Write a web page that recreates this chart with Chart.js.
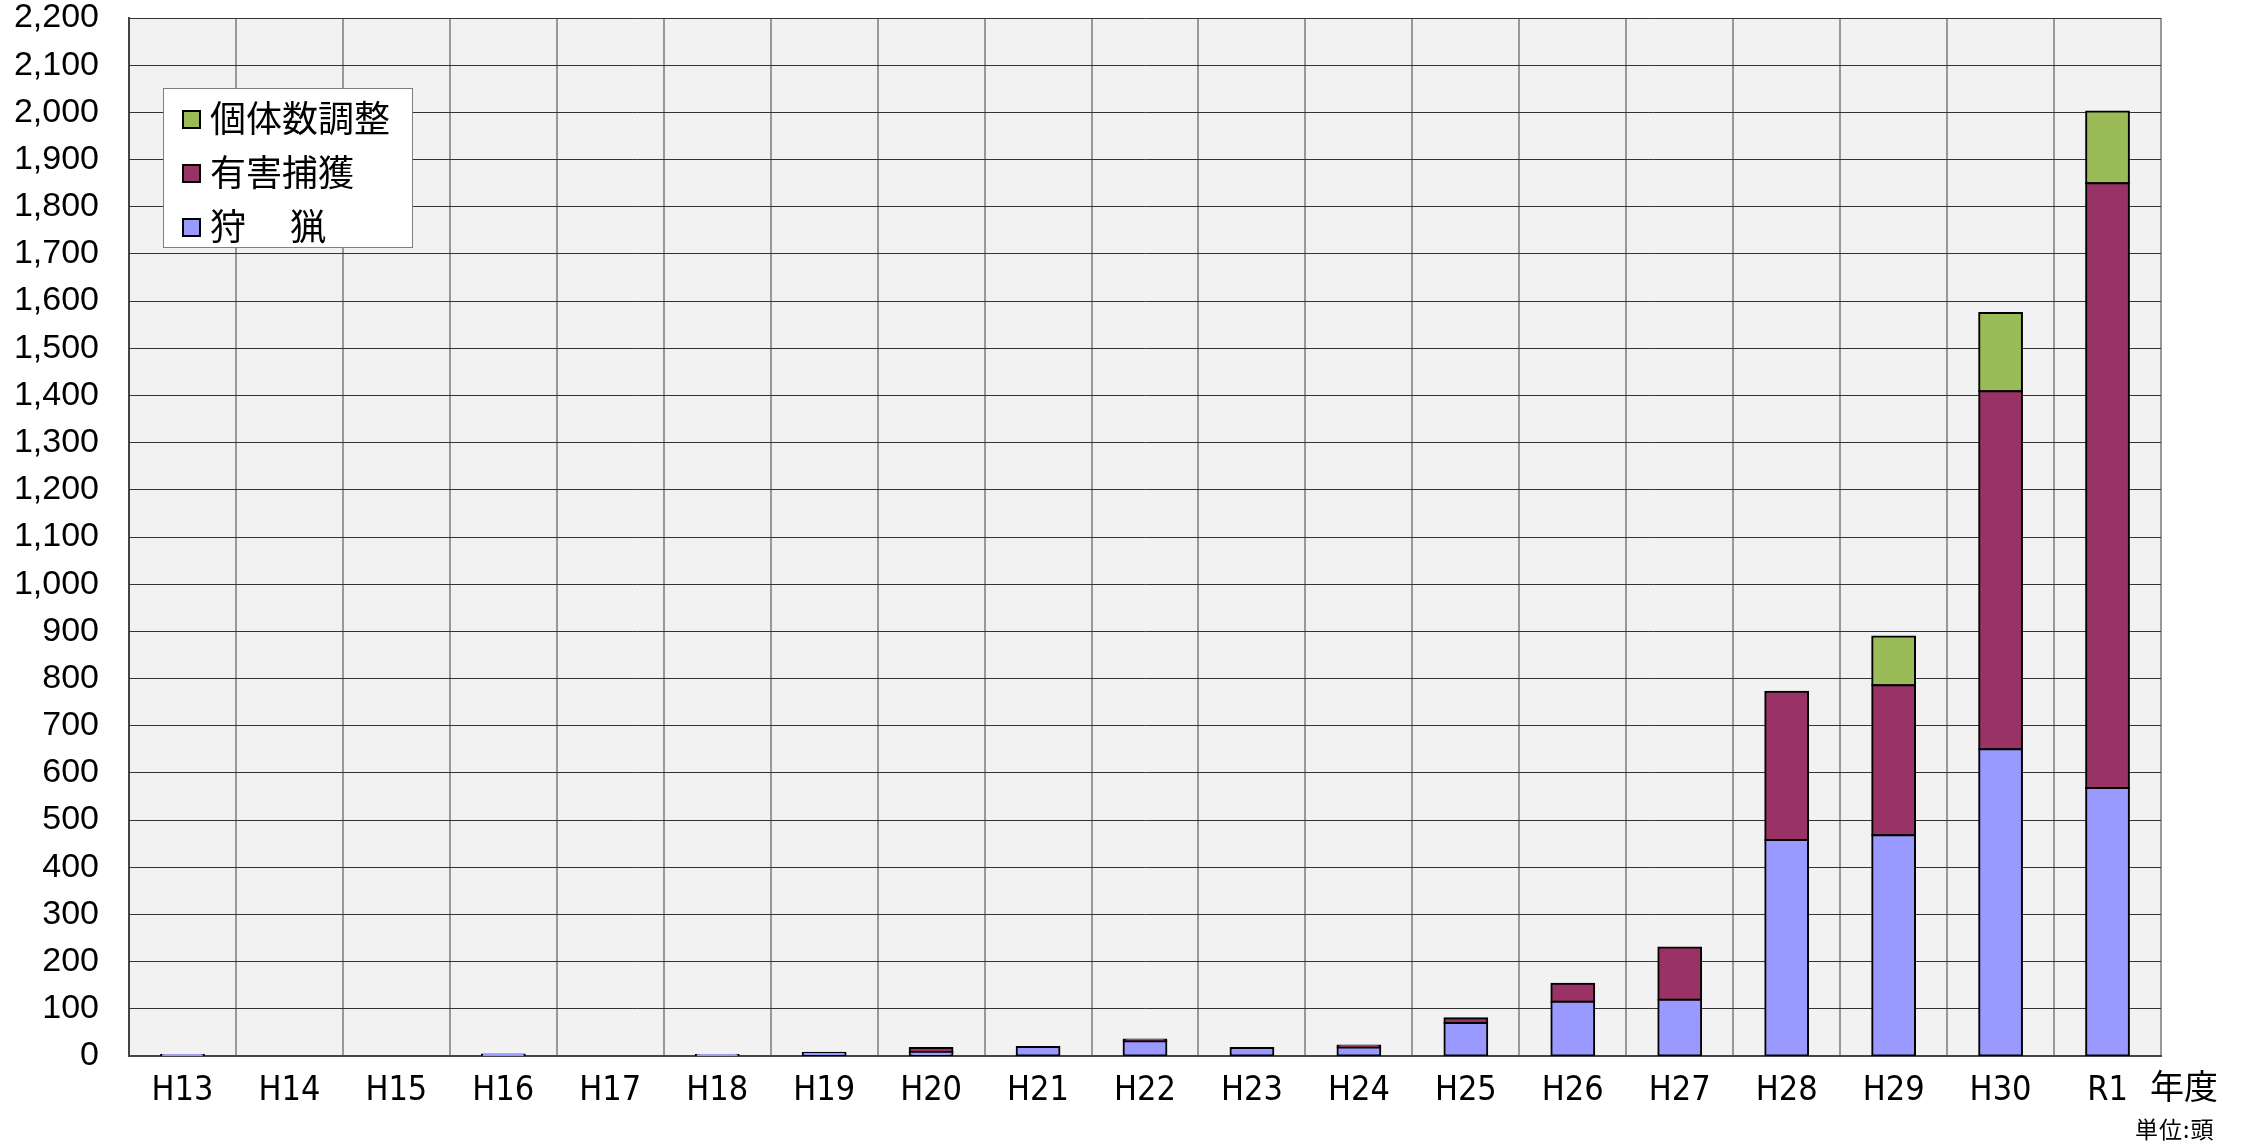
<!DOCTYPE html>
<html lang="ja">
<head>
<meta charset="UTF-8">
<title>捕獲頭数の推移</title>
<script src="https://cdn.jsdelivr.net/npm/chart.js"></script>
<style>
    body { margin: 0; background: #fff; }
    .wrap { position: relative; width: 2251px; height: 1144px; }
    .legend {
        position: absolute; left: 163px; top: 88px; width: 250px; height: 160px;
        background: #fff; border: 1px solid #808080; box-sizing: border-box;
        font-family: "Noto Sans CJK JP", sans-serif; font-size: 36px; color: #000;
    }
    .legend .item { height: 54px; line-height: 54px; padding-left: 18px; white-space: pre; }
    .legend .box {
        display: inline-block; width: 15px; height: 15px; border: 2px solid #000;
        margin-right: 9px; vertical-align: middle; position: relative; top: -3px;
    }
    .unit { position: absolute; font-family: "Noto Sans CJK JP", sans-serif; color: #000; white-space: nowrap; }
</style>
</head>
<body>
<div class="wrap">
    <canvas id="grafico"></canvas>
    <div class="legend" id="legenda"></div>
    <div class="unit" style="left: 2150px; top: 1060px; font-size: 34px;">年度</div>
    <div class="unit" style="left: 2135px; top: 1111px; font-size: 23px; letter-spacing: 1px;">単位:頭</div>
</div>
<script>
    const anos = ['H13', 'H14', 'H15', 'H16', 'H17', 'H18', 'H19', 'H20', 'H21', 'H22',
        'H23', 'H24', 'H25', 'H26', 'H27', 'H28', 'H29', 'H30', 'R1'];

    // 狩猟
    const shuryo = [2, 0, 0, 3, 0, 2, 7, 8, 19, 31, 17, 18, 70, 115, 119, 458, 468, 650, 568];
    // 有害捕獲
    const yugai = [0, 0, 0, 0, 0, 0, 0, 9, 0, 4, 0, 4, 10, 38, 111, 314, 318, 759, 1282];
    // 個体数調整
    const kotaisu = [0, 0, 0, 0, 0, 0, 0, 0, 0, 0, 0, 0, 0, 0, 0, 0, 103, 166, 152];

    const yMax = 2200;
    const yStep = 100;

    // fundo cinza da área do gráfico
    const fundo = {
        id: 'fundo',
        beforeDraw(chart) {
            const a = chart.chartArea;
            const ctx = chart.ctx;
            ctx.save();
            ctx.fillStyle = '#f2f2f2';
            ctx.fillRect(a.left, a.top, a.right - a.left, a.bottom - a.top);
            ctx.restore();
        }
    };

    const series = [
        { label: '狩　 猟', data: shuryo, cor: '#9999ff' },
        { label: '有害捕獲', data: yugai, cor: '#993366' },
        { label: '個体数調整', data: kotaisu, cor: '#9bbb59' }
    ];

    let ctx = document.getElementById('grafico');
    new Chart(ctx, {
        type: 'bar',
        data: {
            labels: anos,
            datasets: series.map(s => ({
                label: s.label,
                data: s.data,
                backgroundColor: s.cor,
                borderColor: '#000',
                borderWidth: 2,
                borderSkipped: false,
                inflateAmount: 1,
                barPercentage: 0.4,
                categoryPercentage: 1.0
            }))
        },
        options: {
            responsive: true,
            maintainAspectRatio: false,
            animation: false,
            layout: { padding: { top: 18, right: 90, left: 0, bottom: 0 } },
            plugins: {
                legend: { display: false },
                tooltip: { enabled: false }
            },
            scales: {
                x: {
                    stacked: true,
                    afterFit: s => { s.height = 88; s.paddingLeft = 0; s.paddingRight = 0; },
                    grid: { color: '#999', lineWidth: 2, drawTicks: false, offset: true },
                    border: { color: '#444', width: 2 },
                    ticks: {
                        color: '#000',
                        padding: 15,
                        maxRotation: 0,
                        font: { family: "'Liberation Sans Narrow', 'DejaVu Sans Condensed', sans-serif", size: 34 }
                    }
                },
                y: {
                    stacked: true,
                    min: 0,
                    max: yMax,
                    afterFit: s => { s.width = 129; s.paddingTop = 0; s.paddingBottom = 0; },
                    grid: { color: '#333', lineWidth: 1, drawTicks: false },
                    border: { color: '#444', width: 2 },
                    ticks: {
                        stepSize: yStep,
                        color: '#000',
                        padding: 30,
                        font: { family: "'Liberation Sans', Arial, sans-serif", size: 34 },
                        callback: v => v.toLocaleString('en-US')
                    }
                }
            }
        },
        plugins: [fundo]
    });

    // legenda em ordem inversa (como no Excel)
    const legenda = document.getElementById('legenda');
    series.slice().reverse().forEach(s => {
        const item = document.createElement('div');
        item.className = 'item';
        const box = document.createElement('span');
        box.className = 'box';
        box.style.background = s.cor;
        item.appendChild(box);
        item.appendChild(document.createTextNode(s.label));
        legenda.appendChild(item);
    });
</script>
</body>
</html>
